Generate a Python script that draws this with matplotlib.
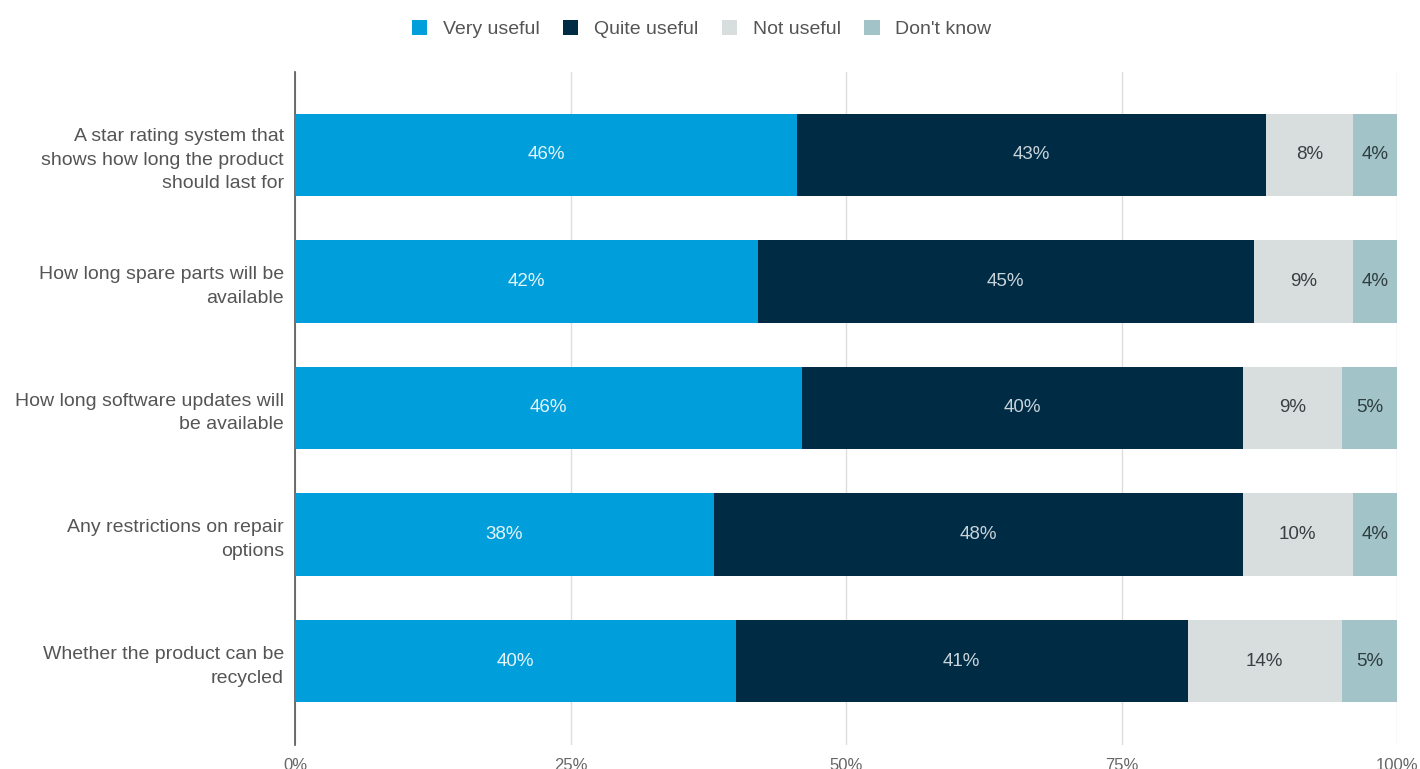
import matplotlib
matplotlib.use("Agg")
import matplotlib.pyplot as plt
from matplotlib.patches import Patch
import numpy as np

plt.rcParams['font.family'] = ['Liberation Sans', 'DejaVu Sans']

categories = [
    "A star rating system that\nshows how long the product\nshould last for",
    "How long spare parts will be\navailable",
    "How long software updates will\nbe available",
    "Any restrictions on repair\noptions",
    "Whether the product can be\nrecycled",
]
series_names = ["Very useful", "Quite useful", "Not useful", "Don't know"]
very_useful = [46, 42, 46, 38, 40]
quite_useful = [43, 45, 40, 48, 41]
not_useful = [8, 9, 9, 10, 14]
dont_know = [4, 4, 5, 4, 5]
x_ticks = [0, 25, 50, 75, 100]
x_tick_labels = ["0%", "25%", "50%", "75%", "100%"]

colors = ["#009fdb", "#002b45", "#d8dddd", "#a2c4c9"]
label_colors = ["#e6f4fb", "#c9d3da", "#3a3f42", "#2f3d40"]

series = np.array([very_useful, quite_useful, not_useful, dont_know], dtype=float)
totals = series.sum(axis=0)
shares = series / totals * 100

fig = plt.figure(figsize=(14.2, 7.69), dpi=100)
ax = fig.add_axes([295 / 1420, 1 - 745 / 769, (1397 - 295) / 1420, (745 - 72) / 769])

y = np.arange(len(categories))
left = np.zeros(len(categories))
for i, name in enumerate(series_names):
    ax.barh(y, shares[i], left=left, height=0.65, color=colors[i], zorder=3)
    for j in range(len(categories)):
        ax.text(left[j] + shares[i][j] / 2, y[j], f"{int(series[i][j])}%",
                ha="center", va="center", fontsize=13.5, color=label_colors[i], zorder=4)
    left += shares[i]

ax.set_xlim(0, 100)
ax.set_ylim(4.664, -0.656)
ax.set_xticks(x_ticks)
ax.set_xticklabels(x_tick_labels, fontsize=12, color="#666666")
ax.set_yticks(y)
ax.set_yticklabels(categories, fontsize=14, color="#555555", linespacing=1.5)
ax.tick_params(axis="both", length=0)
ax.tick_params(axis="x", pad=9)
ax.tick_params(axis="y", pad=8)
ax.xaxis.grid(True, color="#dedede", linewidth=1, zorder=0)
for s in ["top", "right", "bottom"]:
    ax.spines[s].set_visible(False)
ax.spines["left"].set_color("#555555")
ax.spines["left"].set_linewidth(1.2)

handles = [Patch(facecolor=c, edgecolor="none") for c in colors]
fig.legend(handles, series_names, loc="center", bbox_to_anchor=(0.494, 0.962),
           ncol=4, frameon=False, fontsize=14, handlelength=0.8, handleheight=0.8,
           columnspacing=1.2, handletextpad=0.8, labelcolor="#555555")

fig.savefig("out.png", dpi=100, facecolor="white")
